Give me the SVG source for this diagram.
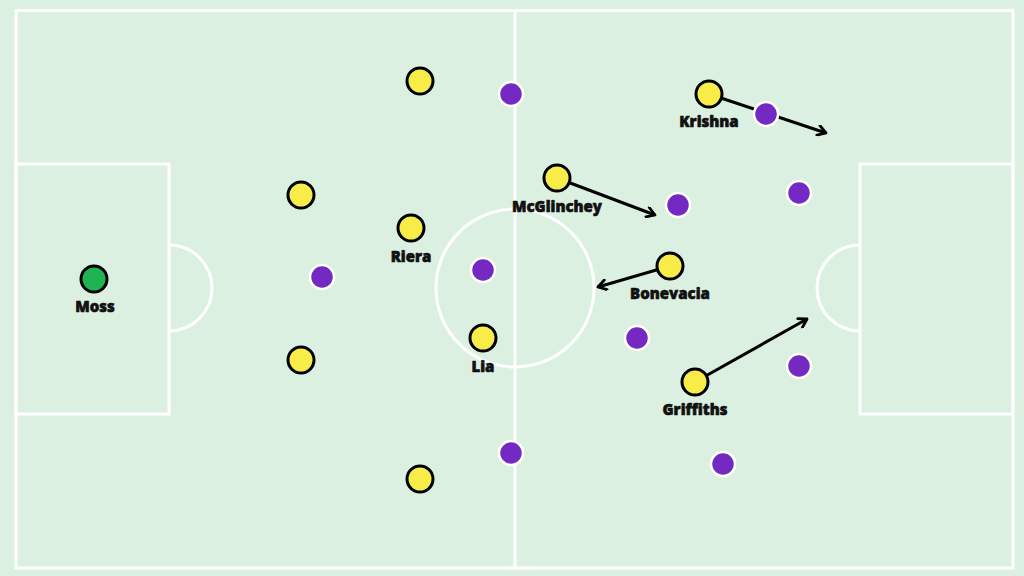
<svg xmlns="http://www.w3.org/2000/svg" width="1024" height="576" viewBox="0 0 1024 576">
<defs>
<style>
.line{fill:none;stroke:#ffffff;stroke-width:3}
.yel{fill:#f7ec48;stroke:#000000;stroke-width:3}
.pur{fill:#7429c2;stroke:#ffffff;stroke-width:2.5}
.gk{fill:#1fb352;stroke:#000000;stroke-width:3}
.lbl{font-family:"Open Sans","Liberation Sans",sans-serif;font-weight:800;font-size:15px;fill:#111111;stroke:#111111;stroke-width:0.6;stroke-linejoin:round;text-anchor:middle}
.arr{fill:none;stroke:#000000;stroke-width:3;marker-end:url(#head)}
</style>
<marker id="head" viewBox="0 0 12 12" refX="10" refY="6" markerWidth="12" markerHeight="12" markerUnits="userSpaceOnUse" orient="auto">
<path d="M2,1 L10,6 L2,11" fill="none" stroke="#000000" stroke-width="2.8" stroke-linecap="round" stroke-linejoin="round"/>
</marker>
</defs>
<rect x="0" y="0" width="1024" height="576" fill="#dcf0e2"/>
<g id="pitch">
<rect class="line" x="16" y="10.5" width="997" height="557.5"/>
<line class="line" x1="515" y1="10.5" x2="515" y2="568"/>
<circle class="line" cx="515" cy="288" r="79"/>
<rect class="line" x="16" y="164" width="153" height="250"/>
<rect class="line" x="860" y="164" width="153" height="250"/>
<path class="line" d="M169,245 A43,43 0 0 1 169,331"/>
<path class="line" d="M860,245 A43,43 0 0 0 860,331"/>
</g>
<g id="connectors">
<line class="arr" x1="709" y1="94" x2="826" y2="133"/>
<line class="arr" x1="557" y1="178" x2="655" y2="215"/>
<line class="arr" x1="670" y1="266" x2="598" y2="287"/>
<line class="arr" x1="695" y1="382" x2="807" y2="319"/>
</g>
<g id="purple-players">
<circle id="p1" class="pur" cx="511" cy="94" r="12"/>
<circle id="p2" class="pur" cx="322" cy="277" r="12"/>
<circle id="p3" class="pur" cx="483" cy="270" r="12"/>
<circle id="p4" class="pur" cx="511" cy="453" r="12"/>
<circle id="p5" class="pur" cx="766" cy="114" r="12"/>
<circle id="p6" class="pur" cx="678" cy="205" r="12"/>
<circle id="p7" class="pur" cx="799" cy="193" r="12"/>
<circle id="p8" class="pur" cx="637" cy="338" r="12"/>
<circle id="p9" class="pur" cx="799" cy="366" r="12"/>
<circle id="p10" class="pur" cx="723" cy="464" r="12"/>
</g>
<g id="moss"><circle class="gk" cx="94" cy="279" r="13"/><text class="lbl" x="95" y="312">Moss</text></g>
<g id="y1"><circle class="yel" cx="420" cy="81" r="13"/></g>
<g id="y2"><circle class="yel" cx="301" cy="195" r="13"/></g>
<g id="riera"><circle class="yel" cx="411" cy="228" r="13"/><text class="lbl" x="411" y="262">Riera</text></g>
<g id="y4"><circle class="yel" cx="301" cy="360" r="13"/></g>
<g id="y5"><circle class="yel" cx="420" cy="479" r="13"/></g>
<g id="lia"><circle class="yel" cx="483" cy="338" r="13"/><text class="lbl" x="483" y="372">Lia</text></g>
<g id="mcglinchey"><circle class="yel" cx="557" cy="178" r="13"/><text class="lbl" x="557" y="212">McGlinchey</text></g>
<g id="bonevacia"><circle class="yel" cx="670" cy="266" r="13"/><text class="lbl" x="670" y="299">Bonevacia</text></g>
<g id="griffiths"><circle class="yel" cx="695" cy="382" r="13"/><text class="lbl" x="695" y="415">Griffiths</text></g>
<g id="krishna"><circle class="yel" cx="709" cy="94" r="13"/><text class="lbl" x="709" y="127">Krishna</text></g>
</svg>
